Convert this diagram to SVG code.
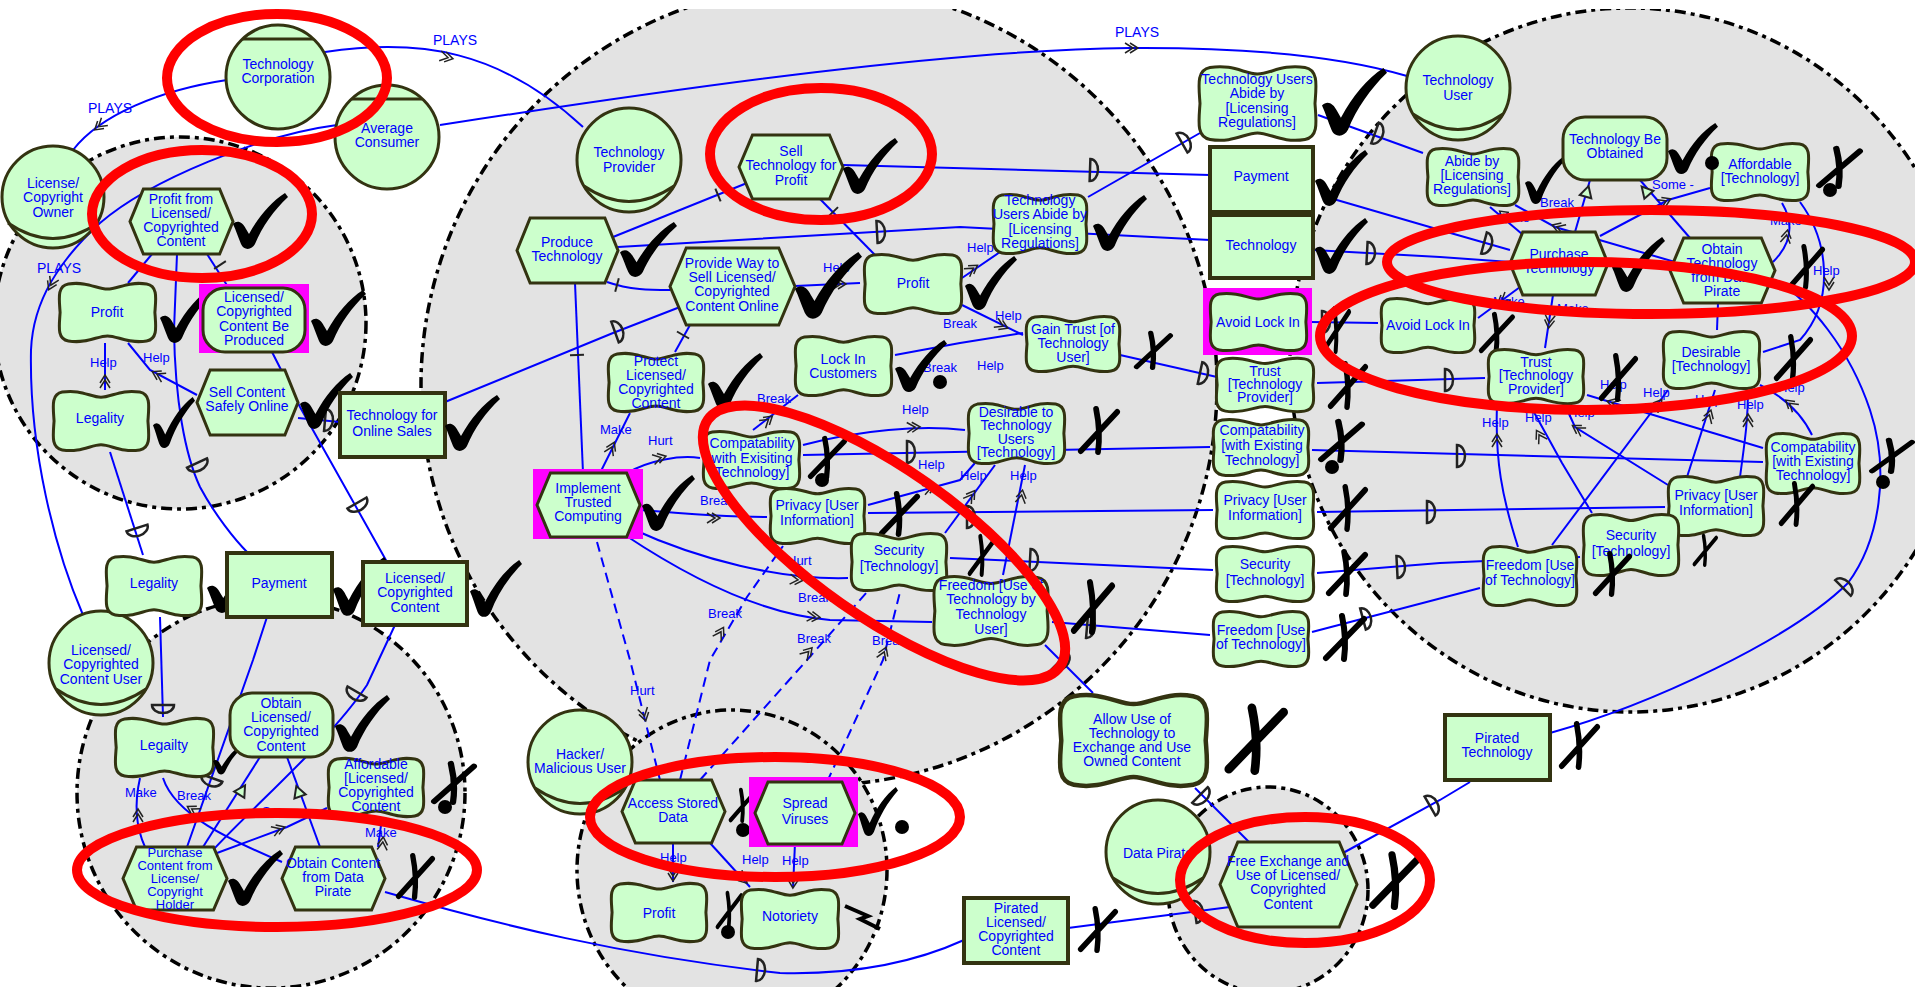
<svg xmlns="http://www.w3.org/2000/svg" xmlns:xlink="http://www.w3.org/1999/xlink" width="1915" height="987" viewBox="0 0 1915 987">
<style>
.bd{fill:#e3e3e3;stroke:#000;stroke-width:3.5;stroke-dasharray:11 5 4 5}
.ln{fill:none;stroke:#0000ff;stroke-width:2}
.dl{fill:none;stroke:#0000ff;stroke-width:2;stroke-dasharray:10 6}
.nd{fill:#ccffcc;stroke:#333311;stroke-width:3}
.rs{fill:#ccffcc;stroke:#333311;stroke-width:4}
.nl{fill:none;stroke:#333311;stroke-width:3}
.mg{fill:#ff00ff}
.t{font-family:"Liberation Sans",Arial,sans-serif;font-size:14px;fill:#0000ff;text-anchor:middle}
.tm{font-family:"Liberation Sans",Arial,sans-serif;font-size:13px;fill:#0000ff;text-anchor:middle}
.lb{font-family:"Liberation Sans",Arial,sans-serif;font-size:13px;fill:#0000ff}
.pl{font-family:"Liberation Sans",Arial,sans-serif;font-size:14px;fill:#0000ff}
.ck{fill:#000}
.dot{fill:#000}
.red{fill:none;stroke:#ff0000;stroke-width:10}
</style>
<defs>
<clipPath id="cliptop"><rect x="0" y="9" width="1915" height="978"/></clipPath>
<symbol id="sg" viewBox="0 0 100 60" preserveAspectRatio="none" overflow="visible"><path vector-effect="non-scaling-stroke" d="M12,2 C30,-1 40,7 50,7 C60,7 70,-1 88,2 C99,4 97,16 96,30 C97,44 99,56 88,58 C70,61 60,53 50,53 C40,53 30,61 12,58 C1,56 3,44 4,30 C3,16 1,4 12,2 Z"/></symbol>
<symbol id="hx" viewBox="0 0 100 60" preserveAspectRatio="none" overflow="visible"><path vector-effect="non-scaling-stroke" d="M13,0 H87 L100,30 L87,60 H13 L0,30 Z"/></symbol>
<symbol id="ckm" viewBox="0 0 55 57" preserveAspectRatio="none" overflow="visible"><path d="M0,31 C4,27 9,28 13,36 L16,41 C26,23 38,9 52,0 L55,4 C41,17 29,34 22,51 C19,57 11,58 8,51 C5,44 3,37 0,31 Z"/></symbol>
<symbol id="xm" viewBox="0 0 45 50" preserveAspectRatio="none" overflow="visible"><path d="M4,46 L42,7 M20,4 C23,18 24,32 22,47" fill="none" stroke="#000" stroke-width="6" stroke-linecap="round"/></symbol>
<path id="ar" d="M-10,-5 L-2,0 L-10,5 M-5,-5 L3,0 L-5,5" fill="none" stroke="#222" stroke-width="1.5"/>
<path id="dd" d="M0,-11 L0,11 A8,11 0 0 0 0,-11 Z" fill="none" stroke="#222" stroke-width="2.5"/>
<path id="tk" d="M0,-7 L0,7" stroke="#222" stroke-width="2"/>
<path id="tr" d="M2,0 L-9,-6 L-9,6 Z" fill="#ccffcc" stroke="#222" stroke-width="2"/>
</defs>
<rect width="1915" height="987" fill="#fff"/>

<!-- actor boundaries -->
<g id="boundaries">
<ellipse class="bd" cx="819" cy="385" rx="398" ry="400" clip-path="url(#cliptop)"/>
<circle class="bd" cx="180" cy="323" r="186"/>
<ellipse class="bd" cx="271" cy="793" rx="194" ry="195"/>
<ellipse class="bd" cx="732" cy="870" rx="155" ry="160"/>
<ellipse class="bd" cx="1630" cy="360" rx="340" ry="352" clip-path="url(#cliptop)"/>
<ellipse class="bd" cx="1268" cy="890" rx="100" ry="103"/>
</g>

<!-- connectors -->
<g id="links">
<path class="ln" d="M325,52 C420,38 500,50 583,127"/>
<path class="ln" d="M227,80 C160,90 100,115 73,150"/>
<path class="ln" d="M440,125 C700,85 950,50 1130,48 C1280,47 1360,62 1407,76"/>
<path class="ln" d="M337,125 C260,135 150,180 100,223 C60,260 33,300 31,350 C29,450 55,550 83,615"/>
<path class="ln" d="M152,254 L128,283"/>
<path class="ln" d="M207,254 L230,290"/>
<path class="ln" d="M177,254 L174,330 C175,400 185,455 200,487 C215,515 235,540 248,553"/>
<path class="ln" d="M197,395 L150,370 L128,343"/>
<path class="ln" d="M105,390 L105,343"/>
<path class="ln" d="M272,352 L300,407 L387,562"/>
<path class="ln" d="M298,418 L340,422"/>
<path class="ln" d="M110,452 L143,555"/>
<path class="ln" d="M160,617 L163,717"/>
<path class="ln" d="M445,402 L613,333 L680,307"/>
<path class="ln" d="M267,617 L253,660 L187,847"/>
<path class="ln" d="M395,625 L367,685 C330,740 260,800 213,850"/>
<path class="ln" d="M203,847 L260,757"/>
<path class="ln" d="M320,847 L287,757"/>
<path class="ln" d="M145,847 C135,825 135,800 140,778"/>
<path class="ln" d="M282,862 C230,840 175,815 163,778"/>
<path class="ln" d="M217,853 L287,827 L327,808"/>
<path class="ln" d="M378,847 L382,818"/>
<path class="ln" d="M385,892 C500,925 620,955 780,973 C860,975 920,960 964,940"/>
<path class="ln" d="M613,237 L747,183"/>
<path class="ln" d="M820,199 L875,255"/>
<path class="ln" d="M607,282 C630,290 650,290 670,290"/>
<path class="ln" d="M843,165 L1210,175"/>
<path class="ln" d="M618,247 L960,227 L1210,240"/>
<path class="ln" d="M795,286 L860,283"/>
<path class="ln" d="M690,325 L675,352"/>
<path class="ln" d="M575,283 L583,473"/>
<path class="ln" d="M600,473 L630,413"/>
<path class="ln" d="M627,473 C650,460 680,455 700,458"/>
<path class="ln" d="M640,510 C700,515 740,517 767,517"/>
<path class="ln" d="M630,528 C700,560 780,580 848,578"/>
<path class="ln" d="M625,535 C700,585 770,615 830,620 L932,622"/>
<path class="ln" d="M753,430 L798,395"/>
<path class="ln" d="M803,445 C860,430 920,425 965,430"/>
<path class="ln" d="M803,455 L1210,447"/>
<path class="ln" d="M868,505 L960,480 L975,463"/>
<path class="ln" d="M945,533 L995,465"/>
<path class="ln" d="M1003,575 L1025,465"/>
<path class="ln" d="M868,513 L1213,510"/>
<path class="ln" d="M950,558 L1213,570"/>
<path class="ln" d="M1052,622 L1210,635"/>
<path class="ln" d="M1045,645 L1093,693"/>
<path class="ln" d="M1195,788 L1250,843"/>
<path class="ln" d="M1068,928 L1230,907"/>
<path class="ln" d="M1343,853 L1440,800 L1470,782"/>
<path class="ln" d="M1550,733 C1650,705 1790,640 1848,583 C1880,540 1890,470 1870,410 C1850,350 1810,300 1775,280"/>
<path class="ln" d="M1088,197 L1200,133"/>
<path class="ln" d="M1318,115 L1423,153"/>
<path class="ln" d="M962,278 L1000,252"/>
<path class="ln" d="M962,305 L1023,335"/>
<path class="ln" d="M895,355 L960,343 L1023,333"/>
<path class="ln" d="M1120,355 L1217,377"/>
<path class="ln" d="M1330,198 L1440,230 L1510,250"/>
<path class="ln" d="M1313,250 L1440,257 L1510,262"/>
<path class="ln" d="M1310,322 L1378,323"/>
<path class="ln" d="M1317,383 L1485,378"/>
<path class="ln" d="M1312,450 L1763,462"/>
<path class="ln" d="M1317,512 L1665,507"/>
<path class="ln" d="M1317,573 L1440,563 L1580,557"/>
<path class="ln" d="M1312,632 L1480,588"/>
<path class="ln" d="M1575,232 L1590,180"/>
<path class="ln" d="M1690,238 L1640,180"/>
<path class="ln" d="M1600,236 L1668,200 L1710,188"/>
<path class="ln" d="M1773,262 C1790,245 1795,225 1782,203"/>
<path class="ln" d="M1800,202 C1828,240 1836,300 1800,340 L1763,352"/>
<path class="ln" d="M1675,262 L1555,227 L1515,205"/>
<path class="ln" d="M1522,234 L1490,207"/>
<path class="ln" d="M1520,287 L1478,318"/>
<path class="ln" d="M1553,295 L1545,348"/>
<path class="ln" d="M1718,303 L1717,330"/>
<path class="ln" d="M1518,547 C1502,497 1495,460 1497,405"/>
<path class="ln" d="M1592,513 L1562,463 L1530,405"/>
<path class="ln" d="M1668,485 L1575,427 L1565,405"/>
<path class="ln" d="M1763,448 L1587,395"/>
<path class="ln" d="M1552,545 L1668,390"/>
<path class="ln" d="M1687,477 L1715,390"/>
<path class="ln" d="M1740,477 C1745,440 1748,420 1748,390"/>
<path class="ln" d="M1812,435 C1800,410 1780,395 1760,385"/>
<path class="ln" d="M673,843 L673,882"/>
<path class="ln" d="M710,843 L750,887"/>
<path class="ln" d="M795,843 L793,888"/>
<path class="dl" d="M597,542 L630,660 L660,780"/>
<path class="dl" d="M680,780 L710,660 L747,597 L783,546"/>
<path class="dl" d="M700,780 L807,660 L867,592"/>
<path class="dl" d="M827,782 L883,660 L900,592"/>
<!-- arrowheads -->
<use href="#ar" transform="translate(450,58) rotate(12)"/>
<use href="#ar" transform="translate(97,128) rotate(140)"/>
<use href="#ar" transform="translate(1135,48) rotate(0)"/>
<use href="#ar" transform="translate(50,287) rotate(115)"/>
<use href="#ar" transform="translate(155,373) rotate(208)"/>
<use href="#ar" transform="translate(105,378) rotate(-90)"/>
<use href="#ar" transform="translate(138,812) rotate(-90)"/>
<use href="#ar" transform="translate(190,808) rotate(-150)"/>
<use href="#ar" transform="translate(282,828) rotate(-20)"/>
<use href="#ar" transform="translate(383,840) rotate(-85)"/>
<use href="#ar" transform="translate(843,284) rotate(0)"/>
<use href="#ar" transform="translate(613,445) rotate(-65)"/>
<use href="#ar" transform="translate(663,457) rotate(-15)"/>
<use href="#ar" transform="translate(717,518) rotate(0)"/>
<use href="#ar" transform="translate(800,580) rotate(5)"/>
<use href="#ar" transform="translate(817,617) rotate(5)"/>
<use href="#ar" transform="translate(770,418) rotate(-40)"/>
<use href="#ar" transform="translate(917,427) rotate(-3)"/>
<use href="#ar" transform="translate(933,487) rotate(-18)"/>
<use href="#ar" transform="translate(973,493) rotate(-55)"/>
<use href="#ar" transform="translate(1022,493) rotate(-80)"/>
<use href="#ar" transform="translate(975,267) rotate(-35)"/>
<use href="#ar" transform="translate(1005,327) rotate(25)"/>
<use href="#ar" transform="translate(1668,200) rotate(-25)"/>
<use href="#ar" transform="translate(1787,233) rotate(-80)"/>
<use href="#ar" transform="translate(1829,287) rotate(90)"/>
<use href="#ar" transform="translate(1555,226) rotate(-160)"/>
<use href="#ar" transform="translate(1502,213) rotate(-140)"/>
<use href="#ar" transform="translate(1500,302) rotate(143)"/>
<use href="#ar" transform="translate(1549,325) rotate(97)"/>
<use href="#ar" transform="translate(1497,437) rotate(-90)"/>
<use href="#ar" transform="translate(1538,433) rotate(-120)"/>
<use href="#ar" transform="translate(1575,427) rotate(-148)"/>
<use href="#ar" transform="translate(1610,402) rotate(-163)"/>
<use href="#ar" transform="translate(1660,402) rotate(-53)"/>
<use href="#ar" transform="translate(1710,413) rotate(-72)"/>
<use href="#ar" transform="translate(1748,417) rotate(-90)"/>
<use href="#ar" transform="translate(1788,402) rotate(-140)"/>
<use href="#ar" transform="translate(673,878) rotate(90)"/>
<use href="#ar" transform="translate(745,881) rotate(48)"/>
<use href="#ar" transform="translate(793,885) rotate(92)"/>
<use href="#ar" transform="translate(645,718) rotate(76)"/>
<use href="#ar" transform="translate(722,630) rotate(-60)"/>
<use href="#ar" transform="translate(810,650) rotate(-48)"/>
<use href="#ar" transform="translate(885,650) rotate(-68)"/>
<!-- dependency markers -->
<use href="#dd" transform="translate(197,463) rotate(65)"/>
<use href="#dd" transform="translate(357,503) rotate(60)"/>
<use href="#dd" transform="translate(325,420) rotate(5)"/>
<use href="#dd" transform="translate(137,528) rotate(72)"/>
<use href="#dd" transform="translate(163,705) rotate(90)"/>
<use href="#dd" transform="translate(615,332) rotate(-20)"/>
<use href="#dd" transform="translate(357,692) rotate(120)"/>
<use href="#dd" transform="translate(212,778) rotate(110)"/>
<use href="#dd" transform="translate(757,970) rotate(5)"/>
<use href="#dd" transform="translate(1090,170) rotate(2)"/>
<use href="#dd" transform="translate(877,232) rotate(-3)"/>
<use href="#dd" transform="translate(907,452) rotate(0)"/>
<use href="#dd" transform="translate(967,517) rotate(0)"/>
<use href="#dd" transform="translate(1030,560) rotate(3)"/>
<use href="#dd" transform="translate(1087,627) rotate(5)"/>
<use href="#dd" transform="translate(1060,661) rotate(45)"/>
<use href="#dd" transform="translate(1200,795) rotate(45)"/>
<use href="#dd" transform="translate(1195,912) rotate(-8)"/>
<use href="#dd" transform="translate(1430,806) rotate(-30)"/>
<use href="#dd" transform="translate(1843,588) rotate(-45)"/>
<use href="#dd" transform="translate(1182,143) rotate(-30)"/>
<use href="#dd" transform="translate(1375,133) rotate(20)"/>
<use href="#dd" transform="translate(1200,373) rotate(12)"/>
<use href="#dd" transform="translate(1484,243) rotate(15)"/>
<use href="#dd" transform="translate(1367,253) rotate(3)"/>
<use href="#dd" transform="translate(1322,322) rotate(0)"/>
<use href="#dd" transform="translate(1445,380) rotate(0)"/>
<use href="#dd" transform="translate(1457,456) rotate(0)"/>
<use href="#dd" transform="translate(1427,512) rotate(0)"/>
<use href="#dd" transform="translate(1397,567) rotate(-3)"/>
<use href="#dd" transform="translate(1363,619) rotate(-15)"/>
<!-- decomposition ticks -->
<use href="#tk" transform="translate(220,265) rotate(57)"/>
<use href="#tk" transform="translate(718,195) rotate(-22)"/>
<use href="#tk" transform="translate(833,212) rotate(46)"/>
<use href="#tk" transform="translate(617,285) rotate(15)"/>
<use href="#tk" transform="translate(683,335) rotate(-60)"/>
<use href="#tk" transform="translate(577,355) rotate(87)"/>
<!-- means-ends heads -->
<use href="#tr" transform="translate(244,787) rotate(-58)"/>
<use href="#tr" transform="translate(297,788) rotate(-110)"/>
<use href="#tr" transform="translate(1588,188) rotate(-74)"/>
<use href="#tr" transform="translate(1643,188) rotate(-131)"/>
<!-- link labels -->
<text class="pl" x="433" y="45">PLAYS</text>
<text class="pl" x="88" y="113">PLAYS</text>
<text class="pl" x="1115" y="37">PLAYS</text>
<text class="pl" x="37" y="273">PLAYS</text>
<text class="lb" x="143" y="362">Help</text>
<text class="lb" x="90" y="367">Help</text>
<text class="lb" x="125" y="797">Make</text>
<text class="lb" x="177" y="800">Break</text>
<text class="lb" x="262" y="816">Some -</text>
<text class="lb" x="365" y="837">Make</text>
<text class="lb" x="823" y="272">Help</text>
<text class="lb" x="600" y="434">Make</text>
<text class="lb" x="648" y="445">Hurt</text>
<text class="lb" x="700" y="505">Break</text>
<text class="lb" x="787" y="565">Hurt</text>
<text class="lb" x="798" y="602">Break</text>
<text class="lb" x="757" y="403">Break</text>
<text class="lb" x="902" y="414">Help</text>
<text class="lb" x="918" y="469">Help</text>
<text class="lb" x="960" y="480">Help</text>
<text class="lb" x="1010" y="480">Help</text>
<text class="lb" x="967" y="252">Help</text>
<text class="lb" x="995" y="320">Help</text>
<text class="lb" x="943" y="328">Break</text>
<text class="lb" x="923" y="372">Break</text>
<text class="lb" x="977" y="370">Help</text>
<text class="lb" x="630" y="695">Hurt</text>
<text class="lb" x="708" y="618">Break</text>
<text class="lb" x="797" y="643">Break</text>
<text class="lb" x="872" y="645">Break</text>
<text class="lb" x="660" y="862">Help</text>
<text class="lb" x="742" y="864">Help</text>
<text class="lb" x="782" y="865">Help</text>
<text class="lb" x="1540" y="207">Break</text>
<text class="lb" x="1652" y="189">Some -</text>
<text class="lb" x="1813" y="275">Help</text>
<text class="lb" x="1493" y="306">Make</text>
<text class="lb" x="1557" y="313">Make</text>
<text class="lb" x="1498" y="222">Make</text>
<text class="lb" x="1770" y="225">Make</text>
<text class="lb" x="1482" y="427">Help</text>
<text class="lb" x="1525" y="422">Help</text>
<text class="lb" x="1568" y="417">Help</text>
<text class="lb" x="1600" y="389">Help</text>
<text class="lb" x="1643" y="397">Help</text>
<text class="lb" x="1695" y="404">Help</text>
<text class="lb" x="1737" y="409">Help</text>
<text class="lb" x="1778" y="392">Help</text>
</g>

<!-- actors -->
<g id="n-tech-corp"><circle class="nd" cx="278" cy="77" r="52"/><path class="nl" d="M243,39 H313"/><text class="t"><tspan x="278" y="69">Technology</tspan><tspan x="278" y="83">Corporation</tspan></text></g>
<g id="n-avg-consumer"><circle class="nd" cx="387" cy="137" r="52"/><path class="nl" d="M352,99 H422"/><text class="t"><tspan x="387" y="133">Average</tspan><tspan x="387" y="147">Consumer</tspan></text></g>
<g id="n-lc-owner"><circle class="nd" cx="53" cy="197" r="51"/><path class="nl" d="M8,223 Q53,254 98,223"/><text class="t"><tspan x="53" y="188">License/</tspan><tspan x="53" y="202">Copyright</tspan><tspan x="53" y="217">Owner</tspan></text></g>
<g id="n-tech-provider"><circle class="nd" cx="629" cy="160" r="52"/><path class="nl" d="M584,186 Q629,217 674,186"/><text class="t"><tspan x="629" y="157">Technology</tspan><tspan x="629" y="172">Provider</tspan></text></g>
<g id="n-tech-user"><circle class="nd" cx="1458" cy="88" r="52"/><path class="nl" d="M1413,114 Q1458,145 1503,114"/><text class="t"><tspan x="1458" y="85">Technology</tspan><tspan x="1458" y="100">User</tspan></text></g>
<g id="n-lc-user"><circle class="nd" cx="101" cy="663" r="52"/><path class="nl" d="M56,689 Q101,720 146,689"/><text class="t"><tspan x="101" y="655">Licensed/</tspan><tspan x="101" y="669">Copyrighted</tspan><tspan x="101" y="684">Content User</tspan></text></g>
<g id="n-hacker"><circle class="nd" cx="580" cy="762" r="52"/><path class="nl" d="M535,788 Q580,819 625,788"/><text class="t"><tspan x="580" y="759">Hacker/</tspan><tspan x="580" y="773">Malicious User</tspan></text></g>
<g id="n-data-pirate"><circle class="nd" cx="1158" cy="852" r="52"/><path class="nl" d="M1113,878 Q1158,909 1203,878"/><text class="t" x="1158" y="858">Data Pirate</text></g>

<!-- License/Copyright Owner elements -->
<g id="n-profit-from-lc"><use href="#hx" class="nd" x="130" y="189" width="103" height="65"/><text class="t"><tspan x="181" y="204">Profit from</tspan><tspan x="181" y="218">Licensed/</tspan><tspan x="181" y="232">Copyrighted</tspan><tspan x="181" y="246">Content</tspan></text><use href="#ckm" class="ck" x="233" y="193" width="55" height="57"/></g>
<g id="n-profit-owner"><use href="#sg" class="nd" x="56" y="282" width="103" height="61"/><text class="t" x="107" y="317">Profit</text><use href="#ckm" class="ck" x="160" y="287" width="55" height="57"/></g>
<g id="n-lc-produced"><rect class="mg" x="199" y="284" width="110" height="69"/><rect class="nd" x="203" y="288" width="102" height="64" rx="22"/><text class="t"><tspan x="254" y="302">Licensed/</tspan><tspan x="254" y="316">Copyrighted</tspan><tspan x="254" y="331">Content Be</tspan><tspan x="254" y="345">Produced</tspan></text><use href="#ckm" class="ck" x="311" y="290" width="55" height="57"/></g>
<g id="n-legality-owner"><use href="#sg" class="nd" x="50" y="390" width="102" height="62"/><text class="t" x="100" y="423">Legality</text><use href="#ckm" class="ck" x="153" y="397" width="42" height="52"/></g>
<g id="n-sell-content"><use href="#hx" class="nd" x="197" y="370" width="101" height="65"/><text class="t"><tspan x="247" y="397">Sell Content</tspan><tspan x="247" y="411">Safely Online</tspan></text><use href="#ckm" class="ck" x="300" y="373" width="53" height="57"/></g>

<!-- elements between owner and user -->
<g id="n-tech-online-sales"><rect class="rs" x="340" y="393" width="105" height="64"/><text class="t"><tspan x="392" y="420">Technology for</tspan><tspan x="392" y="436">Online Sales</tspan></text><use href="#ckm" class="ck" x="445" y="395" width="55" height="57"/></g>
<g id="n-legality-mid"><use href="#sg" class="nd" x="103" y="555" width="102" height="62"/><text class="t" x="154" y="588">Legality</text><use href="#ckm" class="ck" x="207" y="557" width="56" height="57"/></g>
<g id="n-payment-left"><rect class="rs" x="227" y="553" width="105" height="64"/><text class="t" x="279" y="588">Payment</text><use href="#ckm" class="ck" x="333" y="557" width="54" height="60"/></g>
<g id="n-lc-resource"><rect class="rs" x="363" y="562" width="104" height="63"/><text class="t"><tspan x="415" y="583">Licensed/</tspan><tspan x="415" y="597">Copyrighted</tspan><tspan x="415" y="612">Content</tspan></text><use href="#ckm" class="ck" x="470" y="560" width="52" height="58"/></g>

<!-- Licensed/Copyrighted Content User elements -->
<g id="n-legailty"><use href="#sg" class="nd" x="112" y="717" width="105" height="61"/><text class="t" x="164" y="750">Legailty</text><use href="#ckm" class="ck" x="213" y="745" width="30" height="30"/></g>
<g id="n-obtain-lc"><rect class="nd" x="230" y="693" width="103" height="64" rx="22"/><text class="t"><tspan x="281" y="708">Obtain</tspan><tspan x="281" y="722">Licensed/</tspan><tspan x="281" y="736">Copyrighted</tspan><tspan x="281" y="751">Content</tspan></text><use href="#ckm" class="ck" x="335" y="695" width="55" height="58"/></g>
<g id="n-affordable-lc"><use href="#sg" class="nd" x="325" y="757" width="102" height="61"/><text class="t"><tspan x="376" y="769">Affordable</tspan><tspan x="376" y="783">[Licensed/</tspan><tspan x="376" y="797">Copyrighted</tspan><tspan x="376" y="811">Content</tspan></text><use href="#xm" x="430" y="760" width="47" height="45"/><circle class="dot" cx="445" cy="807" r="7"/></g>
<g id="n-purchase-content"><use href="#hx" class="nd" x="123" y="847" width="104" height="63"/><text class="tm"><tspan x="175" y="857">Purchase</tspan><tspan x="175" y="870">Content from</tspan><tspan x="175" y="883">License/</tspan><tspan x="175" y="896">Copyright</tspan><tspan x="175" y="909">Holder</tspan></text><use href="#ckm" class="ck" x="228" y="850" width="55" height="57"/></g>
<g id="n-obtain-pirate-content"><use href="#hx" class="nd" x="282" y="847" width="103" height="63"/><text class="t"><tspan x="333" y="868">Obtain Content</tspan><tspan x="333" y="882">from Data</tspan><tspan x="333" y="896">Pirate</tspan></text><use href="#xm" x="395" y="852" width="40" height="48"/></g>

<!-- Technology Provider elements -->
<g id="n-sell-tech"><use href="#hx" class="nd" x="739" y="135" width="104" height="64"/><text class="t"><tspan x="791" y="156">Sell</tspan><tspan x="791" y="170">Technology for</tspan><tspan x="791" y="185">Profit</tspan></text><use href="#ckm" class="ck" x="843" y="138" width="55" height="57"/></g>
<g id="n-produce-tech"><use href="#hx" class="nd" x="517" y="218" width="101" height="65"/><text class="t"><tspan x="567" y="247">Produce</tspan><tspan x="567" y="261">Technology</tspan></text><use href="#ckm" class="ck" x="620" y="222" width="57" height="56"/></g>
<g id="n-provide-way"><use href="#hx" class="nd" x="670" y="248" width="125" height="77"/><text class="t"><tspan x="732" y="268">Provide Way to</tspan><tspan x="732" y="282">Sell Licensed/</tspan><tspan x="732" y="296">Copyrighted</tspan><tspan x="732" y="311">Content Online</tspan></text><use href="#ckm" class="ck" x="795" y="252" width="67" height="68"/></g>
<g id="n-profit-provider"><use href="#sg" class="nd" x="861" y="253" width="104" height="62"/><text class="t" x="913" y="288">Profit</text><use href="#ckm" class="ck" x="965" y="256" width="52" height="55"/></g>
<g id="n-abide-inner"><use href="#sg" class="nd" x="990" y="193" width="100" height="62"/><text class="t"><tspan x="1040" y="205">Technology</tspan><tspan x="1040" y="219">Users Abide by</tspan><tspan x="1040" y="234">[Licensing</tspan><tspan x="1040" y="248">Regulations]</tspan></text><use href="#ckm" class="ck" x="1093" y="195" width="54" height="57"/></g>
<g id="n-gain-trust"><use href="#sg" class="nd" x="1023" y="315" width="100" height="58"/><text class="t"><tspan x="1073" y="334">Gain Trust [of</tspan><tspan x="1073" y="348">Technology</tspan><tspan x="1073" y="362">User]</tspan></text><use href="#xm" x="1133" y="330" width="40" height="40"/></g>
<g id="n-lock-in"><use href="#sg" class="nd" x="792" y="335" width="103" height="62"/><text class="t"><tspan x="843" y="364">Lock In</tspan><tspan x="843" y="378">Customers</tspan></text><use href="#ckm" class="ck" x="895" y="340" width="52" height="53"/><circle class="dot" cx="940" cy="382" r="7"/></g>
<g id="n-protect"><use href="#sg" class="nd" x="605" y="352" width="102" height="61"/><text class="t"><tspan x="656" y="366">Protect</tspan><tspan x="656" y="380">Licensed/</tspan><tspan x="656" y="394">Copyrighted</tspan><tspan x="656" y="408">Content</tspan></text><use href="#ckm" class="ck" x="708" y="353" width="55" height="57"/></g>
<g id="n-trusted-computing"><rect class="mg" x="533" y="469" width="110" height="70"/><use href="#hx" class="nd" x="537" y="473" width="103" height="64"/><text class="t"><tspan x="588" y="493">Implement</tspan><tspan x="588" y="507">Trusted</tspan><tspan x="588" y="521">Computing</tspan></text><use href="#ckm" class="ck" x="642" y="475" width="53" height="57"/></g>
<g id="n-compat-provider"><use href="#sg" class="nd" x="700" y="430" width="103" height="60"/><text class="t"><tspan x="752" y="448">Compatability</tspan><tspan x="752" y="463">with Exisiting</tspan><tspan x="752" y="477">Technology]</tspan></text><use href="#xm" x="807" y="435" width="40" height="45"/><circle class="dot" cx="822" cy="480" r="7"/></g>
<g id="n-privacy-provider"><use href="#sg" class="nd" x="767" y="487" width="101" height="58"/><text class="t"><tspan x="817" y="510">Privacy [User</tspan><tspan x="817" y="525">Information]</tspan></text><use href="#xm" x="878" y="490" width="42" height="47"/></g>
<g id="n-security-provider"><use href="#sg" class="nd" x="848" y="532" width="102" height="60"/><text class="t"><tspan x="899" y="555">Security</tspan><tspan x="899" y="571">[Technology]</tspan></text><use href="#xm" x="967" y="533" width="30" height="44"/></g>
<g id="n-desirable-provider"><use href="#sg" class="nd" x="965" y="402" width="103" height="63"/><text class="t"><tspan x="1016" y="417">Desirable to</tspan><tspan x="1016" y="430">Technology</tspan><tspan x="1016" y="444">Users</tspan><tspan x="1016" y="457">[Technology]</tspan></text><use href="#xm" x="1077" y="405" width="43" height="50"/></g>
<g id="n-freedom-provider"><use href="#sg" class="nd" x="930" y="575" width="122" height="72"/><text class="t"><tspan x="991" y="590">Freedom [Use of</tspan><tspan x="991" y="604">Technology by</tspan><tspan x="991" y="619">Technology</tspan><tspan x="991" y="634">User]</tspan></text><use href="#xm" x="1070" y="578" width="45" height="57"/></g>

<!-- elements outside the boundaries -->
<g id="n-allow-use"><use href="#sg" class="nd" x="1055" y="693" width="157" height="95" style="stroke-width:4.5"/><text class="t"><tspan x="1132" y="724">Allow Use of</tspan><tspan x="1132" y="738">Technology to</tspan><tspan x="1132" y="752">Exchange and Use</tspan><tspan x="1132" y="766">Owned Content</tspan></text><use href="#xm" x="1223" y="702" width="65" height="73"/></g>
<g id="n-pirated-lc"><rect class="rs" x="964" y="898" width="104" height="65"/><text class="t"><tspan x="1016" y="913">Pirated</tspan><tspan x="1016" y="927">Licensed/</tspan><tspan x="1016" y="941">Copyrighted</tspan><tspan x="1016" y="955">Content</tspan></text><use href="#xm" x="1077" y="905" width="41" height="48"/></g>
<g id="n-pirated-tech"><rect class="rs" x="1445" y="715" width="105" height="65"/><text class="t"><tspan x="1497" y="743">Pirated</tspan><tspan x="1497" y="757">Technology</tspan></text><use href="#xm" x="1558" y="720" width="42" height="50"/></g>

<!-- shared elements column -->
<g id="n-abide-mid"><use href="#sg" class="nd" x="1195" y="65" width="125" height="77"/><text class="t"><tspan x="1257" y="84">Technology Users</tspan><tspan x="1257" y="98">Abide by</tspan><tspan x="1257" y="113">[Licensing</tspan><tspan x="1257" y="127">Regulations]</tspan></text><use href="#ckm" class="ck" x="1322" y="68" width="65" height="69"/></g>
<g id="n-payment-mid"><rect class="rs" x="1210" y="147" width="103" height="65"/><text class="t" x="1261" y="181">Payment</text><use href="#ckm" class="ck" x="1315" y="150" width="53" height="57"/></g>
<g id="n-technology-mid"><rect class="rs" x="1210" y="215" width="103" height="63"/><text class="t" x="1261" y="250">Technology</text><use href="#ckm" class="ck" x="1315" y="218" width="53" height="57"/></g>
<g id="n-avoid-lock-mid"><rect class="mg" x="1203" y="288" width="109" height="67"/><use href="#sg" class="nd" x="1207" y="292" width="103" height="60"/><text class="t" x="1258" y="327">Avoid Lock In</text><use href="#xm" x="1321" y="305" width="30" height="49"/></g>
<g id="n-trust-mid"><use href="#sg" class="nd" x="1213" y="357" width="104" height="56"/><text class="t"><tspan x="1265" y="376">Trust</tspan><tspan x="1265" y="389">[Technology</tspan><tspan x="1265" y="402">Provider]</tspan></text><use href="#xm" x="1327" y="360" width="41" height="50"/></g>
<g id="n-compat-mid"><use href="#sg" class="nd" x="1210" y="418" width="102" height="59"/><text class="t"><tspan x="1262" y="435">Compatability</tspan><tspan x="1262" y="450">[with Existing</tspan><tspan x="1262" y="465">Technology]</tspan></text><use href="#xm" x="1317" y="418" width="48" height="45"/><circle class="dot" cx="1332" cy="467" r="7"/></g>
<g id="n-privacy-mid"><use href="#sg" class="nd" x="1213" y="480" width="104" height="60"/><text class="t"><tspan x="1265" y="505">Privacy [User</tspan><tspan x="1265" y="520">Information]</tspan></text><use href="#xm" x="1327" y="483" width="41" height="49"/></g>
<g id="n-security-mid"><use href="#sg" class="nd" x="1213" y="545" width="104" height="58"/><text class="t"><tspan x="1265" y="569">Security</tspan><tspan x="1265" y="585">[Technology]</tspan></text><use href="#xm" x="1325" y="548" width="43" height="49"/></g>
<g id="n-freedom-mid"><use href="#sg" class="nd" x="1210" y="610" width="102" height="58"/><text class="t"><tspan x="1261" y="635">Freedom [Use</tspan><tspan x="1261" y="649">of Technology]</tspan></text><use href="#xm" x="1322" y="612" width="45" height="50"/></g>

<!-- Technology User elements -->
<g id="n-abide-user"><use href="#sg" class="nd" x="1424" y="147" width="98" height="60"/><text class="t"><tspan x="1472" y="166">Abide by</tspan><tspan x="1472" y="180">[Licensing</tspan><tspan x="1472" y="194">Regulations]</tspan></text><use href="#ckm" class="ck" x="1525" y="157" width="40" height="48"/></g>
<g id="n-tech-obtained"><rect class="nd" x="1563" y="117" width="104" height="63" rx="22"/><text class="t"><tspan x="1615" y="144">Technology Be</tspan><tspan x="1615" y="158">Obtained</tspan></text><use href="#ckm" class="ck" x="1668" y="123" width="50" height="52"/></g>
<g id="n-affordable-tech"><use href="#sg" class="nd" x="1708" y="142" width="104" height="60"/><text class="t"><tspan x="1760" y="169">Affordable</tspan><tspan x="1760" y="183">[Technology]</tspan></text><circle class="dot" cx="1712" cy="163" r="7"/><use href="#xm" x="1815" y="145" width="48" height="44"/><circle class="dot" cx="1830" cy="190" r="7"/></g>
<g id="n-purchase-tech"><use href="#hx" class="nd" x="1510" y="232" width="98" height="63"/><text class="t"><tspan x="1559" y="259">Purchase</tspan><tspan x="1559" y="273">Technology</tspan></text><use href="#ckm" class="ck" x="1612" y="237" width="53" height="56"/></g>
<g id="n-obtain-pirate-tech"><use href="#hx" class="nd" x="1670" y="238" width="105" height="65"/><text class="t"><tspan x="1722" y="254">Obtain</tspan><tspan x="1722" y="268">Technology</tspan><tspan x="1722" y="282">from Data</tspan><tspan x="1722" y="296">Pirate</tspan></text><use href="#xm" x="1787" y="243" width="38" height="47"/></g>
<g id="n-avoid-lock-user"><use href="#sg" class="nd" x="1378" y="297" width="100" height="57"/><text class="t" x="1428" y="330">Avoid Lock In</text><use href="#xm" x="1478" y="311" width="37" height="43"/></g>
<g id="n-trust-user"><use href="#sg" class="nd" x="1485" y="348" width="102" height="57"/><text class="t"><tspan x="1536" y="367">Trust</tspan><tspan x="1536" y="380">[Technology</tspan><tspan x="1536" y="394">Provider]</tspan></text><use href="#xm" x="1598" y="352" width="40" height="50"/></g>
<g id="n-desirable-user"><use href="#sg" class="nd" x="1660" y="330" width="103" height="60"/><text class="t"><tspan x="1711" y="357">Desirable</tspan><tspan x="1711" y="371">[Technology]</tspan></text><use href="#xm" x="1773" y="333" width="40" height="49"/></g>
<g id="n-compat-user"><use href="#sg" class="nd" x="1763" y="432" width="100" height="63"/><text class="t"><tspan x="1813" y="452">Compatability</tspan><tspan x="1813" y="466">[with Existing</tspan><tspan x="1813" y="480">Technology]</tspan></text><use href="#xm" x="1868" y="437" width="47" height="37"/><circle class="dot" cx="1883" cy="482" r="7"/></g>
<g id="n-privacy-user"><use href="#sg" class="nd" x="1665" y="475" width="102" height="62"/><text class="t"><tspan x="1716" y="500">Privacy [User</tspan><tspan x="1716" y="515">Information]</tspan></text><use href="#xm" x="1778" y="480" width="37" height="47"/></g>
<g id="n-security-user"><use href="#sg" class="nd" x="1580" y="513" width="102" height="64"/><text class="t"><tspan x="1631" y="540">Security</tspan><tspan x="1631" y="556">[Technology]</tspan></text><use href="#xm" x="1692" y="533" width="26" height="34"/></g>
<g id="n-freedom-user"><use href="#sg" class="nd" x="1480" y="545" width="100" height="62"/><text class="t"><tspan x="1530" y="570">Freedom [Use</tspan><tspan x="1530" y="585">of Technology]</tspan></text><use href="#xm" x="1592" y="550" width="40" height="47"/></g>

<!-- Hacker elements -->
<g id="n-access-data"><use href="#hx" class="nd" x="622" y="780" width="103" height="63"/><text class="t"><tspan x="673" y="808">Access Stored</tspan><tspan x="673" y="822">Data</tspan></text><use href="#xm" x="728" y="787" width="29" height="36"/><circle class="dot" cx="743" cy="830" r="7"/></g>
<g id="n-spread-viruses"><rect class="mg" x="749" y="777" width="109" height="70"/><use href="#hx" class="nd" x="755" y="782" width="100" height="62"/><text class="t"><tspan x="805" y="808">Spread</tspan><tspan x="805" y="824">Viruses</tspan></text><use href="#ckm" class="ck" x="858" y="787" width="40" height="50"/><circle class="dot" cx="902" cy="827" r="7"/></g>
<g id="n-profit-hacker"><use href="#sg" class="nd" x="608" y="882" width="102" height="61"/><text class="t" x="659" y="918">Profit</text><use href="#xm" x="715" y="890" width="28" height="40"/><circle class="dot" cx="728" cy="932" r="7"/></g>
<g id="n-notoriety"><use href="#sg" class="nd" x="738" y="888" width="104" height="62"/><text class="t" x="790" y="921">Notoriety</text><path d="M845,906 L868,916 L860,919 L880,929" fill="none" stroke="#000" stroke-width="4"/></g>

<!-- Data Pirate element -->
<g id="n-free-exchange"><use href="#hx" class="nd" x="1220" y="842" width="137" height="85"/><text class="t"><tspan x="1288" y="866">Free Exchange and</tspan><tspan x="1288" y="880">Use of Licensed/</tspan><tspan x="1288" y="894">Copyrighted</tspan><tspan x="1288" y="909">Content</tspan></text><use href="#xm" x="1368" y="850" width="54" height="60"/></g>

<!-- highlight rings -->
<g id="highlights">
<ellipse class="red" cx="277" cy="78" rx="110" ry="64"/>
<ellipse class="red" cx="202" cy="214" rx="110" ry="64"/>
<ellipse class="red" cx="821" cy="154" rx="111" ry="66"/>
<ellipse class="red" cx="1651" cy="262" rx="264" ry="52"/>
<ellipse class="red" cx="1586" cy="336" rx="266" ry="74"/>
<ellipse class="red" cx="884" cy="543" rx="215" ry="74" transform="rotate(35 884 543)"/>
<ellipse class="red" cx="775" cy="817" rx="185" ry="60"/>
<ellipse class="red" cx="277" cy="870" rx="200" ry="57"/>
<ellipse class="red" cx="1305" cy="880" rx="125" ry="63"/>
</g>
</svg>
